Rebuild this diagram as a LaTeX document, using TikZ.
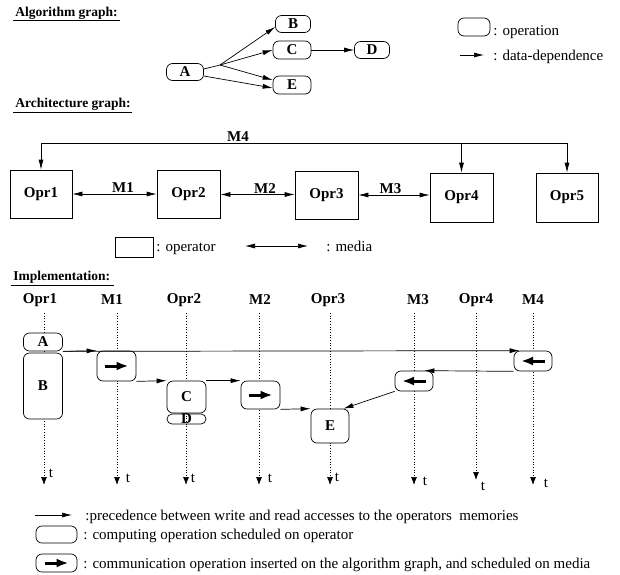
\documentclass[tikz,border=0pt]{standalone}
\usepackage{fontspec}
\setmainfont{Liberation Serif}
\usetikzlibrary{arrows.meta}

\newcommand{\lblsize}{\fontsize{15}{17}\selectfont\bfseries}
\newcommand{\hdsize}{\fontsize{13.5}{15}\selectfont\bfseries}
\newcommand{\txtsize}{\fontsize{15}{17}\selectfont}

\begin{document}
\begin{tikzpicture}[x=1pt,y=-1pt,line width=0.7pt,
    op/.style={draw, fill=white, rounded corners=6pt, inner sep=0pt, font=\lblsize},
    opr/.style={draw, inner sep=0pt, font=\lblsize},
    comm/.style={draw, fill=white, rounded corners=6pt, inner sep=0pt},
    dep/.style={-{Latex[length=10pt,width=5pt]}},
    media/.style={{Latex[length=10pt,width=5pt]}-{Latex[length=10pt,width=5pt]}},
    timeline/.style={dotted, -{Latex[length=8pt,width=6pt]}},
    bigarrow/.style={line width=3pt, -{Latex[length=12pt,width=9pt]}},
    heading/.style={anchor=base west, inner sep=0pt, font=\hdsize},
    colhead/.style={inner sep=1pt, font=\lblsize},
    mlabel/.style={above, inner sep=1pt, font=\lblsize},
    legend/.style={anchor=base west, inner sep=0pt, font=\txtsize},
    tlabel/.style={inner sep=0pt, font=\fontsize{15}{17}\selectfont}]
    \useasboundingbox (0,0) rectangle (620,574);

    % algorithm graph
    \node[heading] (hdalg) at (15,16) {Algorithm graph:};
    \draw ([xshift=-2pt,yshift=-4.5pt]hdalg.base west) -- ([xshift=2pt,yshift=-4.5pt]hdalg.base east);

    \node[op, minimum width=37pt, minimum height=17pt] (a) at (185,72) {A};
    \node[op, minimum width=35pt, minimum height=17pt] (b) at (293,24) {B};
    \node[op, minimum width=38pt, minimum height=18pt] (c) at (292,50) {C};
    \node[op, minimum width=38pt, minimum height=18pt] (e) at (292,85) {E};
    \node[op, minimum width=35pt, minimum height=17pt] (d) at (372,50) {D};

    \coordinate (fork) at (220,65);
    \draw ([yshift=3pt]a.east) -- (fork);
    \draw[dep] (fork) -- ([yshift=-3pt]b.west);
    \draw[dep] (fork) -- (c.west);
    \draw[dep] (fork) -- ([yshift=5pt]e.west);
    \draw[dep] ([yshift=-4pt]a.east) -- ([yshift=-3pt]e.west);
    \draw[dep] (c) -- (d);

    \node[op, minimum width=32pt, minimum height=18pt] (lgop) at (474,27) {};
    \node[legend] (lgoptxt) at (493,35) {: operation};
    \coordinate (lgdepa) at (460,55);
    \coordinate (lgdepb) at (484,55);
    \draw[dep] (lgdepa) -- (lgdepb);
    \node[legend] (lgdeptxt) at (493,60) {: data-dependence};

    % architecture graph
    \node[heading] (hdarch) at (15,107) {Architecture graph:};
    \draw ([xshift=-2pt,yshift=-5pt]hdarch.base west) -- ([xshift=1pt,yshift=-5pt]hdarch.base east);

    \node[opr, minimum width=62pt, minimum height=48pt] (opr1) at (41,194) {Opr1};
    \node[opr, minimum width=63pt, minimum height=48pt] (opr2) at (188.5,194.5) {Opr2};
    \node[opr, minimum width=63pt, minimum height=48pt] (opr3) at (326.5,195) {Opr3};
    \node[opr, minimum width=63pt, minimum height=49pt] (opr4) at (461.5,197.5) {Opr4};
    \node[opr, minimum width=62pt, minimum height=49pt] (opr5) at (567,197.5) {Opr5};

    \draw[media] (opr1.east) -- (opr1.east -| opr2.west) node[mlabel, pos=0.6] {M1};
    \draw[media] (opr2.east) -- (opr2.east -| opr3.west) node[mlabel, pos=0.6] {M2};
    \draw[media] (opr3.east) -- (opr3.east -| opr4.west) node[mlabel, pos=0.45] {M3};

    \coordinate (m4bus) at (238,143);
    \draw[dep] (opr1.north |- m4bus) -- (opr1.north);
    \draw[dep] (opr1.north |- m4bus) -- (opr5.north |- m4bus) -- (opr5.north);
    \draw[dep] (opr4.north |- m4bus) -- (opr4.north);
    \node[mlabel] (m4) at (m4bus) {M4};

    \node[opr, minimum width=38pt, minimum height=20pt] (lgopr) at (134,247) {};
    \node[legend] (lgoprtxt) at (156,251) {: operator};
    \coordinate (lgmeda) at (245,246);
    \coordinate (lgmedb) at (308,246);
    \draw[media] (lgmeda) -- (lgmedb);
    \node[legend] (lgmedtxt) at (326,251) {: media};

    % implementation
    \node[heading] (hdimpl) at (13,280) {Implementation:};
    \draw ([xshift=-2pt,yshift=-5pt]hdimpl.base west) -- ([xshift=4pt,yshift=-5pt]hdimpl.base east);

    \node[colhead] (hopr1) at (40,300) {Opr1};
    \node[colhead] (hm1) at (112,300) {M1};
    \node[colhead] (hopr2) at (184,300) {Opr2};
    \node[colhead] (hm2) at (260,300) {M2};
    \node[colhead] (hopr3) at (328,300) {Opr3};
    \node[colhead] (hm3) at (418,300) {M3};
    \node[colhead] (hopr4) at (476,300) {Opr4};
    \node[colhead] (hm4) at (533,300) {M4};

    \coordinate (sopr1) at (44,313);  \coordinate (topr1) at (44,485);
    \coordinate (sm1) at (117,313);   \coordinate (tm1) at (117,485);
    \coordinate (sopr2) at (186,313); \coordinate (topr2) at (186,485);
    \coordinate (sm2) at (259,313);   \coordinate (tm2) at (259,485);
    \coordinate (sopr3) at (330,313); \coordinate (topr3) at (330,485);
    \coordinate (sm3) at (414,313);   \coordinate (tm3) at (414,485);
    \coordinate (sopr4) at (476,313); \coordinate (topr4) at (476,480);
    \coordinate (sm4) at (533,313);   \coordinate (tm4) at (533,485);

    \draw[timeline] (sopr1) -- (topr1);
    \draw[timeline] (sm1) -- (tm1);
    \draw[timeline] (sopr2) -- (topr2);
    \draw[timeline] (sm2) -- (tm2);
    \draw[timeline] (sopr3) -- (topr3);
    \draw[timeline] (sm3) -- (tm3);
    \draw[timeline] (sopr4) -- (topr4);
    \draw[timeline] (sm4) -- (tm4);

    \node[tlabel] (topr1l) at (51,473) {t};
    \node[tlabel] (tm1l) at (128,478) {t};
    \node[tlabel] (topr2l) at (193,478) {t};
    \node[tlabel] (tm2l) at (270,478) {t};
    \node[tlabel] (topr3l) at (337,477) {t};
    \node[tlabel] (tm3l) at (425,481) {t};
    \node[tlabel] (topr4l) at (483,486) {t};
    \node[tlabel] (tm4l) at (546,483) {t};

    \node[op, minimum width=39pt, minimum height=18pt] (ia) at (43,342) {A};
    \node[op, minimum width=39pt, minimum height=66pt] (ib) at (43,386) {B};
    \node[comm, minimum width=39pt, minimum height=30pt] (im1) at (116.5,366) {};
    \node[op, minimum width=39pt, minimum height=32pt] (ic) at (186.5,397) {C};
    \node[op, fill=none, rounded corners=5pt, minimum width=39pt, minimum height=10pt] (id) at (186.5,419) {D};
    \node[comm, minimum width=39pt, minimum height=28pt] (im2) at (260.5,395) {};
    \node[op, minimum width=38pt, minimum height=34pt] (ie) at (330,426) {E};
    \node[comm, minimum width=38pt, minimum height=20pt] (im4) at (533,361) {};
    \node[comm, minimum width=38pt, minimum height=20pt] (im3) at (414,381) {};

    \draw[bigarrow] ([xshift=-12pt]im1.center) -- ([xshift=12pt]im1.center);
    \draw[bigarrow] ([xshift=-12pt]im2.center) -- ([xshift=12pt]im2.center);
    \draw[bigarrow] ([xshift=12pt]im3.center) -- ([xshift=-12pt]im3.center);
    \draw[bigarrow] ([xshift=12pt]im4.center) -- ([xshift=-12pt]im4.center);

    \draw[dep] (ia.south east) -- (im1.north west);
    \draw[dep] (ia.south east) -- ([xshift=6pt]im4.north west);
    \draw[dep] (im1.south east) -- (ic.north west);
    \draw[dep] (ic.north east) -- (im2.north west);
    \draw[dep] (im2.south east) -- (ie.north west);
    \draw[dep] (im4.south west) -- ([xshift=-9pt]im3.north east);
    \draw[dep] (im3.south west) -- ([xshift=-6pt]ie.north east);

    % legend
    \coordinate (lgpreca) at (35,515);
    \coordinate (lgprecb) at (72,515);
    \draw[dep] (lgpreca) -- (lgprecb);
    \node[legend] (lgprectxt) at (85,520) {:precedence between write and read accesses to the operators\ \ memories};

    \node[op, minimum width=41pt, minimum height=17pt] (lgcomp) at (56.5,534.5) {};
    \node[legend] (lgcomptxt) at (83,539) {: computing operation scheduled on operator};

    \node[comm, minimum width=41pt, minimum height=18pt] (lgcomm) at (56.5,563) {};
    \draw[bigarrow] ([xshift=-12pt]lgcomm.center) -- ([xshift=12pt]lgcomm.center);
    \node[legend] (lgcommtxt) at (83,568) {: communication operation inserted on the algorithm graph, and scheduled on media};

\end{tikzpicture}
\end{document}
